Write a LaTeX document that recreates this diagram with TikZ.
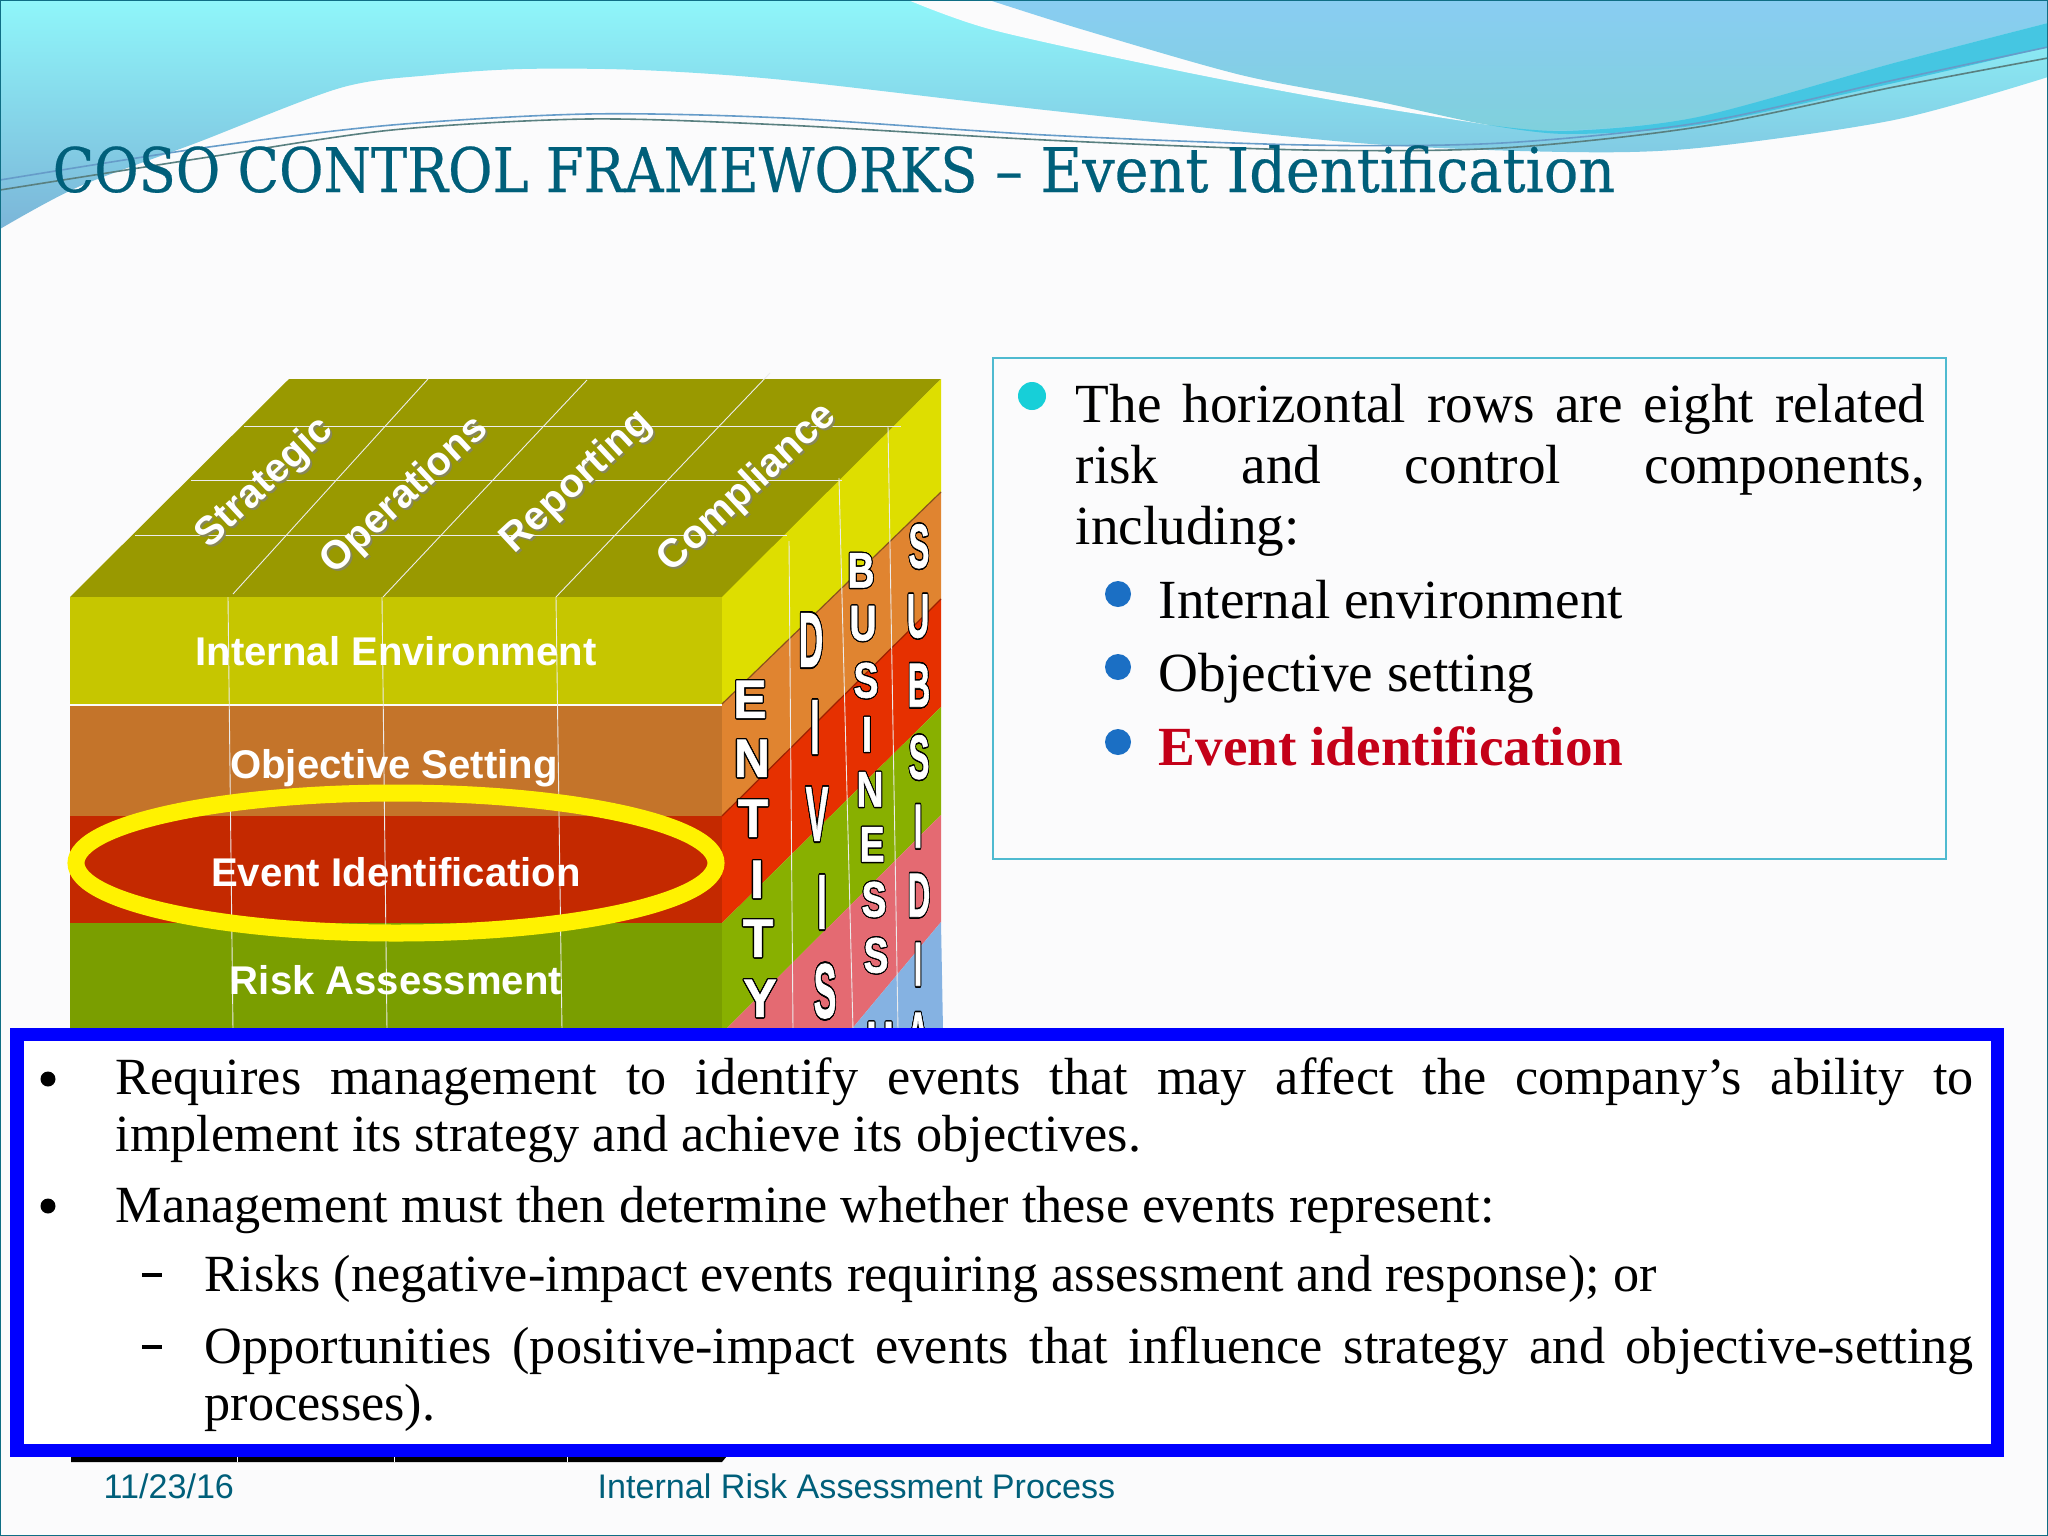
\documentclass[tikz,border=0pt]{standalone}
\usepackage{fontspec}
\usepackage{contour}
\setmainfont{Liberation Serif}
\newfontfamily\titlefont[FakeBold=0.4]{DejaVu Serif Condensed}
\newfontfamily\sansfont{Liberation Sans}
\newfontfamily\letterfont[FakeBold=1.2]{Liberation Sans}
\contourlength{.35pt}
\hyphenpenalty=10000
\exhyphenpenalty=10000
\definecolor{pagebg}{HTML}{FBFBFC}
\definecolor{framecol}{HTML}{0F6E85}
\definecolor{titlecol}{HTML}{005F7A}
\definecolor{topface}{HTML}{999900}
\definecolor{frontA}{HTML}{C6C600}
\definecolor{frontB}{HTML}{C4742A}
\definecolor{frontC}{HTML}{C42900}
\definecolor{frontD}{HTML}{7A9E00}
\definecolor{sideA}{HTML}{DEDE00}
\definecolor{sideB}{HTML}{E08430}
\definecolor{sideC}{HTML}{E63000}
\definecolor{sideD}{HTML}{88B000}
\definecolor{sideE}{HTML}{E46A72}
\definecolor{sideF}{HTML}{85B2E2}
\definecolor{boxline}{HTML}{4FBAD0}
\definecolor{waveAtop}{HTML}{8FF6FA}
\definecolor{waveAbot}{HTML}{7BB5D8}
\definecolor{waveBtop}{HTML}{89CDF2}
\definecolor{waveBbot}{HTML}{80D0DC}
\definecolor{waveC}{HTML}{45C6E2}
\definecolor{dotA}{HTML}{17CFD8}
\definecolor{dotB}{HTML}{1B6FC4}
\definecolor{evtred}{HTML}{C40018}
\tikzset{
  gridline/.style={white!85!gray,line width=.009cm},
  swoosh/.style={color=#1,line width=.016cm},
  frontlabel/.style={text=white,inner sep=0,font=\sansfont\bfseries\fontsize{11.4}{13}\selectfont},
  toplabel/.style={text=white,inner sep=0,rotate=43,font=\sansfont\bfseries\fontsize{11.4}{14}\selectfont},
  topshadow/.style={toplabel,text=gray!70!topface},
  sideletter/.style={inner sep=0,text=white,transform shape,font=\letterfont\bfseries\fontsize{14.2}{16}\selectfont},
  entityletter/.style={sideletter,xscale=1,yscale=1.08},
  divisletter/.style={sideletter,xscale=.68,yscale=1.55},
  busletter/.style={sideletter,xscale=.75,yscale=1},
  subsletter/.style={sideletter,xscale=.62,yscale=1.25},
  bodytext/.style={inner sep=0,anchor=north west,align=left,font=\fontsize{15.7}{17.4}\selectfont},
  subtext/.style={inner sep=0,anchor=base west,font=\fontsize{15.7}{17.4}\selectfont},
  lowtext/.style={inner sep=0,anchor=north west,align=justify,font=\fontsize{14.85}{16.3}\selectfont},
  lowline/.style={inner sep=0,anchor=base west,font=\fontsize{14.85}{16.3}\selectfont},
  footer/.style={inner sep=0,anchor=base west,text=titlecol,font=\sansfont\fontsize{9.7}{12}\selectfont},
}
\newcommand{\wl}[1]{\contour{black}{#1}}
\begin{document}
\begin{tikzpicture}[x=.01cm,y=-.01cm]
% page
\useasboundingbox (0,0) rectangle (2048,1536);
\fill[pagebg] (0,0) rectangle (2048,1536);
% top waves
\begin{scope}
  \clip (0,0) -- plot[smooth] coordinates {(0,229) (78,187) (196,143) (340,88) (431,75) (522,69) (640,70) (784,80) (1045,110) (1358,143) (1567,152) (1698,148) (1894,120) (2048,77)} -- (2048,0) -- cycle;
  \shade[top color=waveAtop,bottom color=waveAbot] (0,0) rectangle (2048,229);
\end{scope}
\fill[pagebg] plot[smooth] coordinates {(908,0) (993,30) (1175,70) (1332,100) (1489,125)} -- (1520,0) -- cycle;
\begin{scope}
  \clip plot[smooth] coordinates {(989,0) (1084,30) (1241,75) (1371,100) (1489,125) (1567,130) (1698,117) (1894,63) (2048,23)} -- (2048,0) -- cycle;
  \shade[top color=waveBtop,bottom color=waveBbot] (989,0) rectangle (2048,130);
\end{scope}
\fill[waveC] plot[smooth] coordinates {(1489,125) (1567,131) (1698,117) (1894,63) (2048,23)} -- plot[smooth] coordinates {(2048,47) (1894,83) (1698,125) (1567,134) (1489,125)} -- cycle;
\draw[swoosh=blue!30!teal!60!white] plot[smooth] coordinates {(0,180) (209,147) (392,125) (588,114) (784,118) (1045,135) (1306,145) (1502,143) (1698,123) (1894,80) (2048,47)};
\draw[swoosh=gray!70!teal] plot[smooth] coordinates {(0,190) (209,157) (392,130) (588,119) (784,125) (1045,140) (1306,150) (1502,148) (1698,127) (1894,87) (2048,58)};
% title
\node[inner sep=0,anchor=base west,text=titlecol,font=\titlefont\fontsize{17.5}{20}\selectfont] (title) at (52,192) {\scalebox{.98}[1]{COSO CONTROL FRAMEWORKS} – \scalebox{1.035}[1]{Event Identification}};
% cube, top face
\fill[topface] (70,597) -- (725,597) -- (941,379) -- (289,379) -- cycle;
% cube, front face
\fill[frontA] (70,597) rectangle (722,704);
\fill[frontB] (70,705.5) rectangle (722,816);
\fill[frontC] (70,816) rectangle (722,923);
\fill[frontD] (70,923) rectangle (722,1030);
% cube, side face
\fill[sideA] (722,597) -- (941,379) -- (941,492) -- (722,704) -- cycle;
\fill[sideB] (722,704) -- (941,492) -- (941,599) -- (722,816) -- cycle;
\fill[sideC] (722,816) -- (941,599) -- (941,707) -- (722,923) -- cycle;
\fill[sideD] (722,923) -- (941,707) -- (941,815) -- (725,1030) -- (722,1030) -- cycle;
\fill[sideE] (725,1030) -- (941,815) -- (941,922) -- (851,1030) -- cycle;
\fill[sideF] (851,1030) -- (941,922) -- (943,1030) -- cycle;
\draw[frontB!70!black,line width=.012cm] (722,704) -- (941,492);
\draw[frontC!80!black,line width=.012cm] (722,816) -- (941,599);
% grid lines
\draw[gridline] (244,426) -- (901,426);
\draw[gridline] (191,480) -- (842,480);
\draw[gridline] (135,535) -- (787,535);
\draw[gridline] (233,594) -- (428,379);
\draw[gridline] (383,597) -- (587,380);
\draw[gridline] (556,597) -- (770,373);
\draw[gridline] (228,597) -- (233,1030);
\draw[gridline] (382,597) -- (387,1030);
\draw[gridline] (556,597) -- (562,1030);
\draw[gridline] (789,541) -- (793,1030);
\draw[gridline] (839,478) -- (853,1030);
\draw[gridline] (888,426) -- (898,1030);
% top labels
\node[topshadow] (strategicS) at (267,485) {Strategic};
\node[toplabel] (strategic) at (265,483) {Strategic};
\node[topshadow] (operationsS) at (407,498) {Operations};
\node[toplabel] (operations) at (405,496) {Operations};
\node[topshadow] (reportingS) at (579,484) {Reporting};
\node[toplabel] (reporting) at (577,482) {Reporting};
\node[topshadow] (complianceS) at (750,490) {Compliance};
\node[toplabel] (compliance) at (748,488) {Compliance};
% front labels
\node[frontlabel] (internal) at (396,651) {Internal Environment};
\node[frontlabel] (objective) at (394,768) {Objective Setting};
\draw[yellow,line width=.17cm] (396,863) ellipse (320 and 70);
\node[frontlabel] (event) at (396,872) {Event Identification};
\node[frontlabel] (risk) at (396,980) {Risk Assessment};
% side letters
\node[entityletter] (e1) at (750,700) {\wl{E}};
\node[entityletter] (e2) at (752,759) {\wl{N}};
\node[entityletter] (e3) at (753,819) {\wl{T}};
\node[entityletter] (e4) at (757,880) {\wl{I}};
\node[entityletter] (e5) at (758,939) {\wl{T}};
\node[entityletter] (e6) at (760,999) {\wl{Y}};
\node[divisletter] (d1) at (811,641) {\wl{D}};
\node[divisletter] (d2) at (815,728) {\wl{I}};
\node[divisletter] (d3) at (817,815) {\wl{V}};
\node[divisletter] (d4) at (822,903) {\wl{I}};
\node[divisletter] (d5) at (825,992) {\wl{S}};
\node[busletter] (b1) at (861,571) {\wl{B}};
\node[busletter] (b2) at (863,624) {\wl{U}};
\node[busletter] (b3) at (866,681) {\wl{S}};
\node[busletter] (b4) at (867,735) {\wl{I}};
\node[busletter] (b5) at (870,790) {\wl{N}};
\node[busletter] (b6) at (872,845) {\wl{E}};
\node[busletter] (b7) at (874,900) {\wl{S}};
\node[busletter] (b8) at (876,956) {\wl{S}};
\node[busletter] (b9) at (880,1040) {\wl{U}};
\node[subsletter] (s1) at (919,547) {\wl{S}};
\node[subsletter] (s2) at (918,617) {\wl{U}};
\node[subsletter] (s3) at (919,686) {\wl{B}};
\node[subsletter] (s4) at (919,758) {\wl{S}};
\node[subsletter] (s5) at (918,827) {\wl{I}};
\node[subsletter] (s6) at (919,896) {\wl{D}};
\node[subsletter] (s7) at (918,965) {\wl{I}};
\node[subsletter] (s8) at (918,1035) {\wl{A}};
% right box
\draw[boxline,line width=.025cm] (993,358) rectangle (1946,859);
\fill[dotA] (1032,396) circle (14);
\node[bodytext] (intro) at (1075,383) {\makebox[8.49cm][s]{The horizontal rows are eight related}\\ \makebox[8.49cm][s]{risk and control components,}\\ including:};
\fill[dotB] (1118,594) circle (13);
\fill[dotB] (1118,667) circle (13);
\fill[dotB] (1118,742) circle (13);
\node[subtext] (env) at (1158,618) {Internal environment};
\node[subtext] (obj) at (1158,691) {Objective setting};
\node[subtext,text=evtred,font=\bfseries\fontsize{15.7}{17.4}\selectfont] (evt) at (1158,765) {Event identification};
% lower box
\fill[black] (71,1450) -- (727,1450) -- (727,1456) -- (722,1462) -- (71,1462) -- cycle;
\draw[blue,fill=white,line width=.13cm] (17,1034) rectangle (1997,1450);
\draw[white,line width=.01cm] (237,1457) -- (237,1462);
\draw[white,line width=.01cm] (394,1457) -- (394,1462);
\draw[white,line width=.01cm] (567,1457) -- (567,1462);
\fill[black] (48,1079) circle (7.5);
\node[lowtext,text width=18.57cm] (req) at (115,1057) {Requires management to identify events that may affect the company's ability to implement its strategy and achieve its objectives.};
\fill[black] (48,1206) circle (7.5);
\node[lowline] (mgmt) at (115,1222) {Management must then determine whether these events represent:};
\fill[black] (142,1273) rectangle (162,1277);
\node[lowline] (risks) at (204,1291) {Risks (negative-impact events requiring assessment and response); or};
\fill[black] (142,1345) rectangle (162,1349);
\node[lowtext,text width=17.68cm] (opps) at (204,1326) {Opportunities (positive-impact events that influence strategy and objective-setting processes).};
% footer
\node[footer] (date) at (103,1498) {11/23/16};
\node[footer] (foot) at (597,1498) {Internal Risk Assessment Process};
% frame
\draw[framecol,line width=.025cm] (0,0) rectangle (2048,1536);
\end{tikzpicture}
\end{document}
